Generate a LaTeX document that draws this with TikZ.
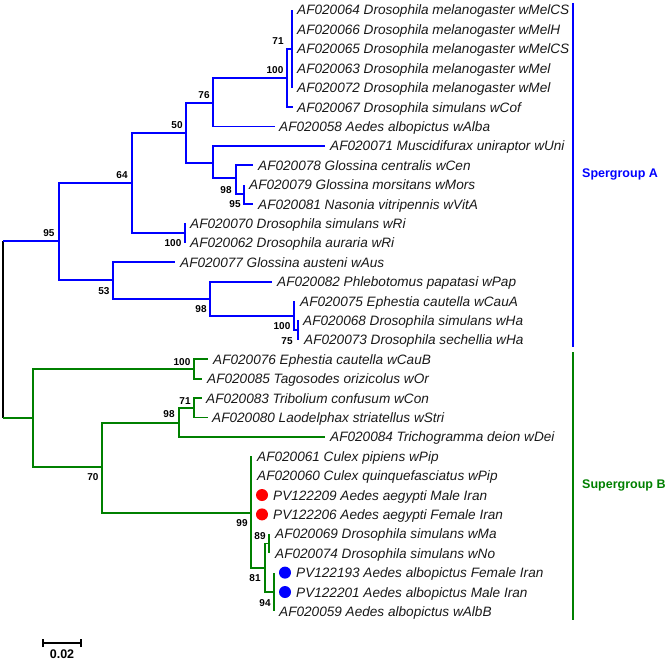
\documentclass[tikz,border=0pt]{standalone}
\usepackage{fontspec}
\setmainfont{Liberation Sans}
\definecolor{treeblue}{RGB}{0,0,255}
\definecolor{treegreen}{RGB}{0,128,0}
\definecolor{dotred}{RGB}{255,0,0}
\definecolor{leaftext}{RGB}{25,25,25}
\tikzset{
  br/.style={line width=1.8pt},
  bb/.style={br, draw=treeblue},
  bg/.style={br, draw=treegreen},
  leaf/.style={anchor=base west, inner sep=0pt, text=leaftext, font=\fontsize{13.6}{16}\selectfont\itshape},
  boot/.style={inner sep=0pt, font=\fontsize{10}{12}\selectfont\bfseries},
  grp/.style={anchor=west, inner sep=0pt, font=\fontsize{12.5}{15}\selectfont\bfseries},
  dot/.style={circle, inner sep=0pt, minimum size=12pt},
  scalebar/.style={black, line width=2pt},
}
\begin{document}
\begin{tikzpicture}[x=1pt, y=-1pt]
\useasboundingbox (0,0) rectangle (669,661);
% ---------- internal nodes ----------
\coordinate (rootTop) at (3,241);
\coordinate (rootBot) at (3,418);
\coordinate (n95) at (59,241);
\coordinate (n64) at (132,183);
\coordinate (n50) at (186,133);
\coordinate (n76) at (213,103);
\coordinate (n100a) at (287,78);
\coordinate (n71) at (292,49);
\coordinate (nU) at (213,163);
\coordinate (n98a) at (236,178);
\coordinate (n95s) at (244,194);
\coordinate (n100r) at (185,233);
\coordinate (n53) at (113,280);
\coordinate (n98b) at (210,299);
\coordinate (n100e) at (294,316);
\coordinate (n75) at (298,330);
\coordinate (nG) at (33,418);
\coordinate (n100g) at (194,369);
\coordinate (n70) at (102,467);
\coordinate (n98g) at (179,423);
\coordinate (n71g) at (194,408);
\coordinate (n99) at (251,513);
\coordinate (n81) at (265,568);
\coordinate (n89) at (269,543.5);
\coordinate (n94) at (274,592);
% ---------- leaf tips ----------
\coordinate (t1) at (292,10);
\coordinate (t2) at (292,29.4);
\coordinate (t3) at (292,48.8);
\coordinate (t4) at (292,68.2);
\coordinate (t5) at (292,87.6);
\coordinate (t6) at (293,107);
\coordinate (t7) at (275,126.4);
\coordinate (t8) at (325,145.8);
\coordinate (t9) at (253,165.2);
\coordinate (t10) at (244,184.6);
\coordinate (t11) at (253,204);
\coordinate (t12) at (185,223.4);
\coordinate (t13) at (185,242.8);
\coordinate (t14) at (175,262.2);
\coordinate (t15) at (272,281.6);
\coordinate (t16) at (294,301);
\coordinate (t17) at (298,320.4);
\coordinate (t18) at (298,339.8);
\coordinate (t19) at (208,359.2);
\coordinate (t20) at (202,378.6);
\coordinate (t21) at (202,398);
\coordinate (t22) at (208,417.4);
\coordinate (t23) at (325,436.8);
\coordinate (t24) at (251,456.2);
\coordinate (t25) at (251,475.6);
\coordinate (t26) at (251,495);
\coordinate (t27) at (251,514.4);
\coordinate (t28) at (269,533.8);
\coordinate (t29) at (269,553.2);
\coordinate (t30) at (274,572.6);
\coordinate (t31) at (274,592);
\coordinate (t32) at (274,611.4);
% ---------- branches: supergroup A ----------
\draw[black, line width=1.5pt] (rootTop) -- (rootBot);
\draw[bb] (rootTop) -- (n95);
\draw[bb] (n95) |- (n64);
\draw[bb] (n95) |- (n53);
\draw[bb] (n64) |- (n50);
\draw[bb] (n64) |- (n100r);
\draw[bb] (n50) |- (n76);
\draw[bb] (n50) |- (nU);
\draw[bb] (n76) |- (n100a);
\draw[bb] (n76) |- (t7);
\draw[bb] (n100a) |- (n71);
\draw[bb] (n100a) |- (t6);
\draw[bb] (n71) |- (t1);
\draw[bb] (n71) |- (t5);
\draw[bb] (nU) |- (t8);
\draw[bb] (nU) |- (n98a);
\draw[bb] (n98a) |- (t9);
\draw[bb] (n98a) |- (n95s);
\draw[bb] (n95s) |- (t10);
\draw[bb] (n95s) |- (t11);
\draw[bb] (n100r) |- (t12);
\draw[bb] (n100r) |- (t13);
\draw[bb] (n53) |- (t14);
\draw[bb] (n53) |- (n98b);
\draw[bb] (n98b) |- (t15);
\draw[bb] (n98b) |- (n100e);
\draw[bb] (n100e) |- (t16);
\draw[bb] (n100e) |- (n75);
\draw[bb] (n75) |- (t17);
\draw[bb] (n75) |- (t18);
% ---------- branches: supergroup B ----------
\draw[bg] (rootBot) -- (nG);
\draw[bg] (nG) |- (n100g);
\draw[bg] (nG) |- (n70);
\draw[bg] (n100g) |- (t19);
\draw[bg] (n100g) |- (t20);
\draw[bg] (n70) |- (n98g);
\draw[bg] (n70) |- (n99);
\draw[bg] (n98g) |- (n71g);
\draw[bg] (n98g) |- (t23);
\draw[bg] (n71g) |- (t21);
\draw[bg] (n71g) |- (t22);
\draw[bg] (n99) |- (t24);
\draw[bg] (n99) |- (n81);
\draw[bg] (n81) |- (n89);
\draw[bg] (n81) |- (n94);
\draw[bg] (n89) |- (t28);
\draw[bg] (n89) |- (t29);
\draw[bg] (n94) |- (t30);
\draw[bg] (n94) |- (t32);
% ---------- leaf labels ----------
\node[leaf] (l1) at (297,15) {AF020064 Drosophila melanogaster wMelCS};
\node[leaf] (l2) at (297,34.4) {AF020066 Drosophila melanogaster wMelH};
\node[leaf] (l3) at (297,53.8) {AF020065 Drosophila melanogaster wMelCS};
\node[leaf] (l4) at (297,73.2) {AF020063 Drosophila melanogaster wMel};
\node[leaf] (l5) at (297,92.6) {AF020072 Drosophila melanogaster wMel};
\node[leaf] (l6) at (297,112) {AF020067 Drosophila simulans wCof};
\node[leaf] (l7) at (279,131.4) {AF020058 Aedes albopictus wAlba};
\node[leaf] (l8) at (330,150.8) {AF020071 Muscidifurax uniraptor wUni};
\node[leaf] (l9) at (258,170.2) {AF020078 Glossina centralis wCen};
\node[leaf] (l10) at (249,189.6) {AF020079 Glossina morsitans wMors};
\node[leaf] (l11) at (258,209) {AF020081 Nasonia vitripennis wVitA};
\node[leaf] (l12) at (190,228.4) {AF020070 Drosophila simulans wRi};
\node[leaf] (l13) at (190,247.8) {AF020062 Drosophila auraria wRi};
\node[leaf] (l14) at (180,267.2) {AF020077 Glossina austeni wAus};
\node[leaf] (l15) at (277,286.6) {AF020082 Phlebotomus papatasi wPap};
\node[leaf] (l16) at (300,306) {AF020075 Ephestia cautella wCauA};
\node[leaf] (l17) at (303,325.4) {AF020068 Drosophila simulans wHa};
\node[leaf] (l18) at (304,344.8) {AF020073 Drosophila sechellia wHa};
\node[leaf] (l19) at (213,364.2) {AF020076 Ephestia cautella wCauB};
\node[leaf] (l20) at (207,383.6) {AF020085 Tagosodes orizicolus wOr};
\node[leaf] (l21) at (206,403) {AF020083 Tribolium confusum wCon};
\node[leaf] (l22) at (212,422.4) {AF020080 Laodelphax striatellus wStri};
\node[leaf] (l23) at (330,441.8) {AF020084 Trichogramma deion wDei};
\node[leaf] (l24) at (257,461.2) {AF020061 Culex pipiens wPip};
\node[leaf] (l25) at (257,480.6) {AF020060 Culex quinquefasciatus wPip};
\node[leaf] (l26) at (273,500) {PV122209 Aedes aegypti Male Iran};
\node[leaf] (l27) at (273,519.4) {PV122206 Aedes aegypti Female Iran};
\node[leaf] (l28) at (275,538.8) {AF020069 Drosophila simulans wMa};
\node[leaf] (l29) at (275,558.2) {AF020074 Drosophila simulans wNo};
\node[leaf] (l30) at (296,577.6) {PV122193 Aedes albopictus Female Iran};
\node[leaf] (l31) at (296,597) {PV122201 Aedes albopictus Male Iran};
\node[leaf] (l32) at (279,616.4) {AF020059 Aedes albopictus wAlbB};
% ---------- markers ----------
\node[dot, fill=dotred] (d26) at (262,495) {};
\node[dot, fill=dotred] (d27) at (262,514.4) {};
\node[dot, fill=treeblue] (d30) at (285,572.6) {};
\node[dot, fill=treeblue] (d31) at (285,592) {};
% ---------- bootstrap values ----------
\node[boot] (b71) at (278,41) {71};
\node[boot] (b100a) at (275,70) {100};
\node[boot] (b76) at (204,95) {76};
\node[boot] (b50) at (177,125) {50};
\node[boot] (b64) at (122,175) {64};
\node[boot] (b98a) at (226,190) {98};
\node[boot] (b95s) at (235,204) {95};
\node[boot] (b95) at (49,233) {95};
\node[boot] (b100r) at (173,243) {100};
\node[boot] (b53) at (104,291) {53};
\node[boot] (b98b) at (201,309) {98};
\node[boot] (b100e) at (282,326) {100};
\node[boot] (b75) at (287,341) {75};
\node[boot] (b100g) at (182,362) {100};
\node[boot] (b71g) at (185,401) {71};
\node[boot] (b98g) at (169,414) {98};
\node[boot] (b70) at (93,477) {70};
\node[boot] (b99) at (242,523) {99};
\node[boot] (b89) at (260,536) {89};
\node[boot] (b81) at (255,578) {81};
\node[boot] (b94) at (265,603) {94};
% ---------- group brackets ----------
\coordinate (gAtop) at (573,3);
\coordinate (gAbot) at (573,347);
\coordinate (gBtop) at (573,352);
\coordinate (gBbot) at (573,620);
\draw[treeblue, line width=2pt] (gAtop) -- (gAbot);
\draw[treegreen, line width=2pt] (gBtop) -- (gBbot);
\node[grp, text=treeblue] (gA) at (582,174) {Spergroup A};
\node[grp, text=treegreen] (gB) at (582,485) {Supergroup B};
% ---------- scale bar ----------
\coordinate (sL) at (43,643);
\coordinate (sR) at (81,643);
\draw[scalebar] (sL) -- (sR);
\draw[scalebar] ([yshift=-4pt]sL) -- ([yshift=4pt]sL);
\draw[scalebar] ([yshift=-4pt]sR) -- ([yshift=4pt]sR);
\node[inner sep=0pt, font=\fontsize{12.5}{15}\selectfont\bfseries] (sLab) at (62,654) {0.02};
\end{tikzpicture}
\end{document}
